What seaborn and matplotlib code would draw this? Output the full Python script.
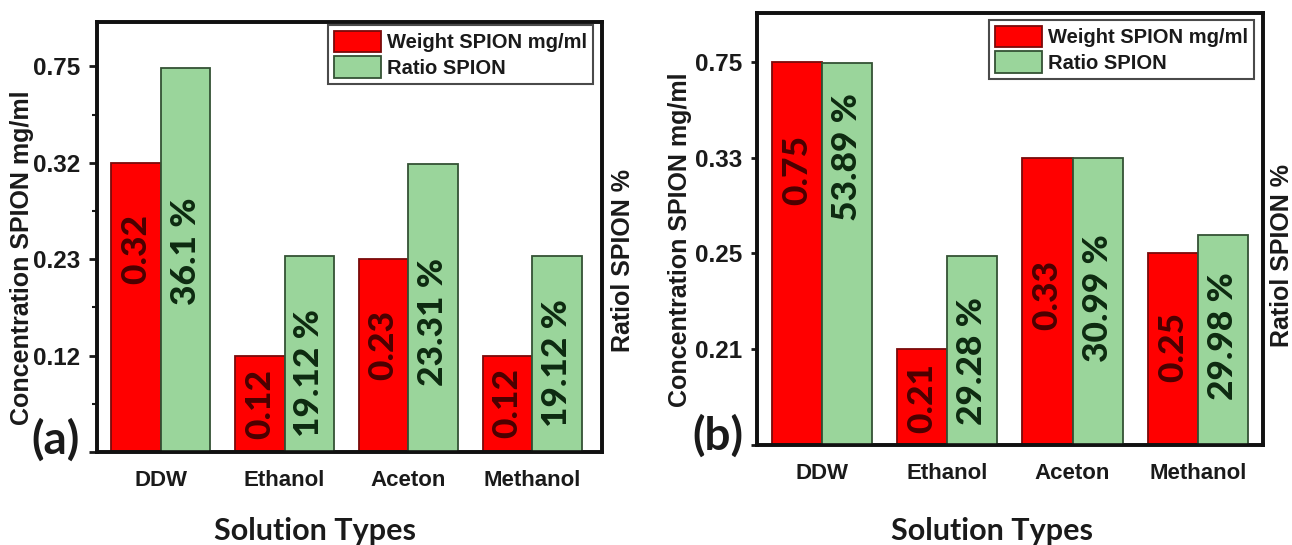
import numpy as np
import pandas as pd
import matplotlib
matplotlib.use("Agg")
import matplotlib.pyplot as plt
import seaborn as sns
from matplotlib.patches import Patch
from matplotlib.ticker import FixedLocator, NullFormatter
from matplotlib.font_manager import FontProperties

# ---------------- data ----------------
solutions = ["DDW", "Ethanol", "Aceton", "Methanol"]

weight_a = [0.32, 0.12, 0.23, 0.12]        # mg/ml
ratio_a = [36.1, 19.12, 23.31, 19.12]      # %
yticks_a = [0.12, 0.23, 0.32, 0.75]

weight_b = [0.75, 0.21, 0.33, 0.25]        # mg/ml
ratio_b = [53.89, 29.28, 30.99, 29.98]     # %
yticks_b = [0.21, 0.25, 0.33, 0.75]

# anchors of the (unticked) ratio axis: percent value -> tick-slot height
ratio_anchor_a = ([19.12, 23.31, 36.1], [2.03, 2.99, 3.98])
ratio_anchor_b = ([29.28, 29.98, 30.99, 53.89], [1.97, 2.19, 3.0, 3.99])

WEIGHT_LABEL = "Weight SPION mg/ml"
RATIO_LABEL = "Ratio SPION"

# ---------------- style ----------------
RED, RED_EDGE = "#ff0000", "#7a0a0a"
GREEN, GREEN_EDGE = "#9ad59b", "#345234"
RED_TXT, GREEN_TXT = "#4a0000", "#0d2a10"

sns.set_theme(style="ticks")
plt.rcParams["font.family"] = ["Liberation Sans", "DejaVu Sans"]
plt.rcParams["font.weight"] = "bold"

W, H = 1292, 545
fig = plt.figure(figsize=(W / 100, H / 100), dpi=100)


def piecewise(xk, yk):
    """Piecewise-linear map through (0,0) and the knots, extrapolated at both ends."""
    xk = np.concatenate([[0.0], np.asarray(xk, float)])
    yk = np.concatenate([[0.0], np.asarray(yk, float)])

    def build(a, b):
        s_lo = (b[1] - b[0]) / (a[1] - a[0])
        s_hi = (b[-1] - b[-2]) / (a[-1] - a[-2])

        def f(x):
            x = np.asarray(x, float)
            y = np.interp(x, a, b)
            y = np.where(x > a[-1], b[-1] + (x - a[-1]) * s_hi, y)
            y = np.where(x < a[0], b[0] + (x - a[0]) * s_lo, y)
            return y
        return f

    return build(xk, yk), build(yk, xk)


def px_rect(left, top, right, bottom):
    return [left / W, (H - bottom) / H, (right - left) / W, (bottom - top) / H]


def drawn_bars(ax):
    return sorted((b for c in ax.containers for b in c), key=lambda b: b.get_x())


def draw_panel(rect, weight, ratio, yticks, ratio_anchor, xlim, top_slot,
               red_slots, green_slots, minor, legend_anchor, tick_len):
    ax = fig.add_axes(rect)
    ax2 = ax.twinx()

    # concentration axis: tick values evenly spaced
    fwd, inv = piecewise(yticks, np.arange(1, len(yticks) + 1))
    ax.set_yscale("function", functions=(fwd, inv))
    # ratio axis
    rfwd, rinv = piecewise(*ratio_anchor)
    ax2.set_yscale("function", functions=(rfwd, rinv))

    hue_order = [WEIGHT_LABEL, RATIO_LABEL]
    palette = {WEIGHT_LABEL: RED, RATIO_LABEL: GREEN}

    wdf = pd.DataFrame({"solution": solutions, "series": WEIGHT_LABEL, "value": weight})
    rdf = pd.DataFrame({"solution": solutions, "series": RATIO_LABEL, "value": ratio})

    sns.barplot(data=wdf, x="solution", y="value", hue="series", order=solutions,
                hue_order=hue_order, palette=palette, dodge=True, width=0.8,
                saturation=1, edgecolor=RED_EDGE, linewidth=1.3, errorbar=None,
                legend=False, ax=ax)
    sns.barplot(data=rdf, x="solution", y="value", hue="series", order=solutions,
                hue_order=hue_order, palette=palette, dodge=True, width=0.8,
                saturation=1, edgecolor=GREEN_EDGE, linewidth=1.3, errorbar=None,
                legend=False, ax=ax2)

    ax.set_xlim(*xlim)
    ax.set_ylim(0, float(inv(top_slot)))
    ax2.set_ylim(0, float(rinv(top_slot)))

    # bar value labels
    lab_kw = dict(rotation=90, ha="center", va="center", fontfamily="Lato",
                  fontweight="black", fontsize=25.5)
    for bar, v, s in zip(drawn_bars(ax), weight, red_slots):
        xc = bar.get_x() + bar.get_width() / 2
        ax.text(xc, float(inv(s)), f"{v:.2f}", color=RED_TXT, **lab_kw)
    for bar, v, s in zip(drawn_bars(ax2), ratio, green_slots):
        xc = bar.get_x() + bar.get_width() / 2
        ax2.text(xc, float(rinv(s)), f"{v:g} %", color=GREEN_TXT, **lab_kw)

    # axes decoration
    ax.set_xlabel("")
    ax.set_ylabel("")
    ax2.set_ylabel("")
    ax.set_yticks([0] + list(yticks))
    ax.set_yticklabels([""] + [f"{t:.2f}" for t in yticks])
    if minor:
        ax.yaxis.set_minor_locator(FixedLocator(inv(np.arange(len(yticks)) + 0.5)))
        ax.yaxis.set_minor_formatter(NullFormatter())
    ax.tick_params(axis="y", which="major", length=tick_len, width=2, pad=6,
                   labelsize=17.5, colors="#1a1a1a")
    ax.tick_params(axis="y", which="minor", length=3.5, width=1.5, color="#1a1a1a")
    ax.tick_params(axis="x", length=0, pad=13, labelsize=16, colors="#1a1a1a")
    ax2.tick_params(axis="y", which="both", right=False, labelright=False)
    ax2.yaxis.set_minor_locator(FixedLocator([]))
    for a in (ax, ax2):
        for sp in a.spines.values():
            sp.set_visible(True)
            sp.set_linewidth(2.6)
            sp.set_color("#111111")

    handles = [Patch(facecolor=RED, edgecolor=RED_EDGE, linewidth=1.3, label=WEIGHT_LABEL),
               Patch(facecolor=GREEN, edgecolor=GREEN_EDGE, linewidth=1.3, label=RATIO_LABEL)]
    leg = ax2.legend(handles=handles, loc="upper right", bbox_to_anchor=legend_anchor,
                     borderaxespad=0, frameon=True, fancybox=False, framealpha=1,
                     edgecolor="#4a4a4a",
                     prop=FontProperties(family="Liberation Sans", weight="bold", size=14.5),
                     handlelength=2.35, handleheight=1.25, handletextpad=0.3,
                     labelspacing=0.2, borderpad=0.3)
    leg.get_frame().set_linewidth(1.5)
    for t in leg.get_texts():
        t.set_color("#1a1a1a")
    return ax, ax2


# panel (a)
draw_panel(px_rect(97, 22, 602, 452), weight_a, ratio_a, yticks_a, ratio_anchor_a,
           xlim=(-0.517, 3.565), top_slot=4.46,
           red_slots=[2.11, 0.50, 1.11, 0.51], green_slots=[2.08, 0.82, 1.35, 0.92],
           minor=True, legend_anchor=(1 - 9 / 505, 1 - 3 / 430), tick_len=5.8)

# panel (b)
draw_panel(px_rect(757, 13, 1263, 445), weight_b, ratio_b, yticks_b, ratio_anchor_b,
           xlim=(-0.519, 3.52), top_slot=4.51,
           red_slots=[2.87, 0.49, 1.57, 1.02], green_slots=[3.01, 0.88, 1.53, 1.14],
           minor=False, legend_anchor=(1 - 9 / 506, 1 - 7 / 432), tick_len=4.5)


def ftext(x, y, s, **kw):
    fig.text(x / W, 1 - y / H, s, ha="center", va="center", **kw)


label_kw = dict(fontsize=18, fontweight="bold", color="#1a1a1a", rotation=90,
                fontfamily="Liberation Sans")
ftext(22, 258, "Concentration SPION mg/ml", **label_kw)
ftext(623, 260, "Ratiol SPION %", **label_kw)
ftext(680, 240, "Concentration SPION mg/ml", **label_kw)
ftext(1282, 255, "Ratiol SPION %", **label_kw)

panel_kw = dict(fontsize=33, fontweight="bold", color="#1a1a1a", fontfamily="Lato")
ftext(56, 440, "(a)", **panel_kw)
ftext(718, 436, "(b)", **panel_kw)

xlab_kw = dict(fontsize=22, fontweight="bold", color="#1a1a1a", fontfamily="Lato")
ftext(315, 531, "Solution Types", **xlab_kw)
ftext(992, 531, "Solution Types", **xlab_kw)

fig.savefig("out.png", dpi=100, facecolor="white")
